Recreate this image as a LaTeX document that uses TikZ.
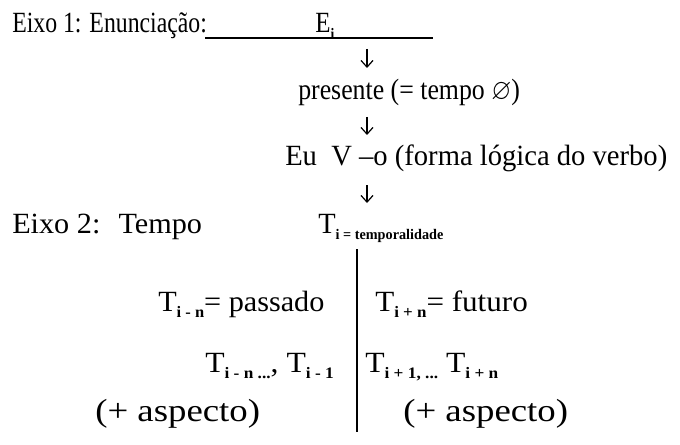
\documentclass[tikz,border=0pt]{standalone}
\usepackage{fontspec}
\usepackage{amssymb}
\usetikzlibrary{arrows.meta}
\setmainfont{Liberation Serif}
\newcommand{\sx}[2]{\scalebox{#1}[1]{#2}}
\newcommand{\sub}[1]{\raisebox{-0.22em}{\fontsize{12}{12}\selectfont\bfseries #1}}
\tikzset{
  txt/.style={anchor=base west, inner sep=0pt, font=\fontsize{22}{24}\selectfont},
  big/.style={txt, font=\fontsize{24}{26}\selectfont},
  arr/.style={-{Straight Barb[length=5pt,width=9pt]}, line width=0.9pt},
}
\begin{document}
\begin{tikzpicture}[x=0.75pt,y=-0.75pt]
\useasboundingbox[fill=white] (0,0) rectangle (680,445);
% axis 1
\node[txt] (e1) at (12,33) {\sx{0.81}{Eixo 1: Enunciação:}};
\coordinate (ul1) at (205,38);
\coordinate (ul2) at (433,38);
\draw[line width=1.4pt] (ul1) -- (ul2);
\node[txt] (ei) at (315,33) {\sx{0.85}{E\sub{i}}};
\coordinate (a1s) at (367,49);
\coordinate (a1e) at (367,68);
\draw[arr] (a1s) -- (a1e);
\node[txt] (pres) at (298,100) {\sx{0.88}{presente (= tempo $\varnothing$)}};
\coordinate (a2s) at (367,117);
\coordinate (a2e) at (367,135);
\draw[arr] (a2s) -- (a2e);
\node[txt] (eu) at (285,166) {\sx{0.975}{Eu\ \ V –o (forma lógica do verbo)}};
\coordinate (a3s) at (367,185);
\coordinate (a3e) at (367,203);
\draw[arr] (a3s) -- (a3e);
% axis 2
\node[txt] (e2) at (12,233) {\sx{1.03}{Eixo 2:\hspace{0.6em}Tempo}};
\node[txt] (ti) at (318,233) {\sx{0.97}{T\sub{\fontsize{11}{11}\selectfont i = temporalidade}}};
\coordinate (vtop) at (357,249);
\coordinate (vbot) at (357,432);
\draw[line width=2pt] (vtop) -- (vbot);
\node[txt] (pas) at (158,311) {\sx{1.03}{T\sub{i - n}= passado}};
\node[txt] (fut) at (375,311) {\sx{1.06}{T\sub{i + n}= futuro}};
\node[txt] (tl) at (205,372) {\sx{1.08}{T\sub{i - n ...}, T\sub{i - 1}}};
\node[txt] (tr) at (365,372) {\sx{1.08}{T\sub{i + 1, ...} T\sub{i + n}}};
\node[big] (al) at (95,421) {\sx{1.15}{(+ aspecto)}};
\node[big] (ar) at (403,421) {\sx{1.15}{(+ aspecto)}};
\end{tikzpicture}
\end{document}
